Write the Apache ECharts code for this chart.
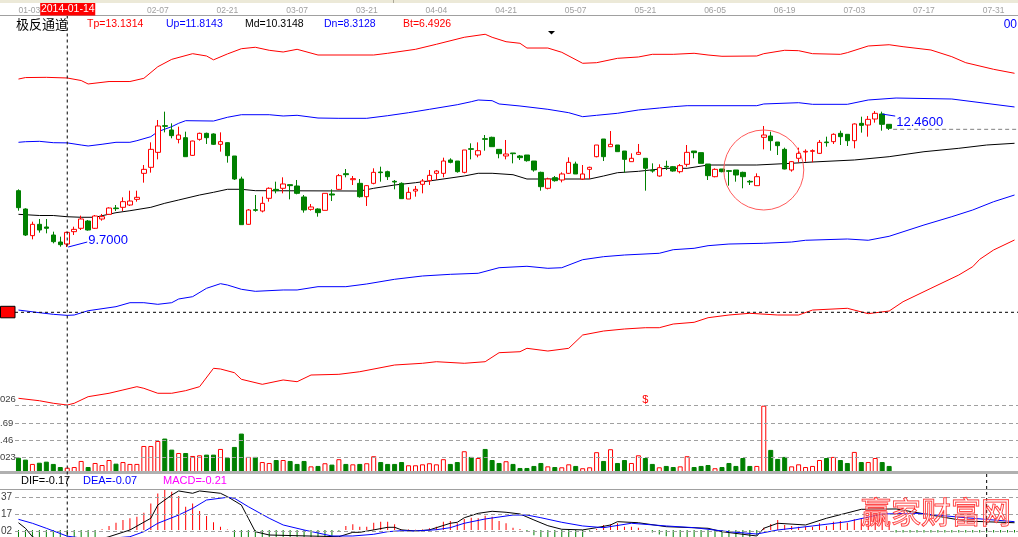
<!DOCTYPE html>
<html><head><meta charset="utf-8">
<script src="https://cdn.jsdelivr.net/npm/echarts@6/dist/echarts.min.js"></script>
<style>html,body{margin:0;padding:0;background:#fff}#c{width:1018px;height:537px}</style>
</head><body><div id="c"></div>
<script>
// ---------- DATA ----------
const dates = ['01-03','01-06','01-07','01-08','01-09','01-10','01-13','01-14','01-15','01-16','01-17','01-20','01-21','01-22','01-23','01-24','01-27','01-28','01-29','01-30',
'02-07','02-10','02-11','02-12','02-13','02-14','02-17','02-18','02-19','02-20','02-21','02-24','02-25','02-26','02-27','02-28',
'03-03','03-04','03-05','03-06','03-07','03-10','03-11','03-12','03-13','03-14','03-17','03-18','03-19','03-20','03-21','03-24','03-25','03-26','03-27','03-28','03-31',
'04-01','04-02','04-03','04-04','04-08','04-09','04-10','04-11','04-14','04-15','04-16','04-17','04-18','04-21','04-22','04-23','04-24','04-25','04-28','04-29','04-30',
'05-05','05-06','05-07','05-08','05-09','05-12','05-13','05-14','05-15','05-16','05-19','05-20','05-21','05-22','05-23','05-26','05-27','05-28','05-29','05-30',
'06-03','06-04','06-05','06-06','06-09','06-10','06-11','06-12','06-13','06-16','06-17','06-18','06-19','06-20','06-23','06-24','06-25','06-26','06-27','06-30',
'07-01','07-02','07-03','07-04','07-07','07-08','07-09','07-10','07-11','07-14','07-15','07-16','07-17','07-18','07-21','07-22','07-23','07-24','07-25','07-28','07-29','07-30','07-31',
'08-01','08-04','08-05'];
const dateTicks = ['01-03','02-07','02-21','03-07','03-21','04-04','04-21','05-07','05-21','06-05','06-19','07-03','07-17','07-31'];

// [open, close, low, high]
const candles = [
[10.844,10.499,10.438,10.871],[10.472,9.944,9.924,10.486],[9.931,10.161,9.856,10.215],[10.161,10.046,9.992,10.269],[10.107,10.080,9.978,10.269],
[9.944,9.809,9.775,10.012],[9.802,9.748,9.707,9.910],[9.761,9.998,9.700,10.012],[10.012,10.059,9.944,10.113],[10.080,10.269,10.046,10.337],
[10.228,10.046,10.032,10.249],[10.080,10.330,10.066,10.350],[10.269,10.316,10.235,10.371],[10.364,10.492,10.350,10.506],[10.492,10.479,10.431,10.553],
[10.506,10.621,10.431,10.709],[10.553,10.634,10.533,10.844],[10.668,10.709,10.621,10.844],[11.196,11.277,11.007,11.365],[11.318,11.683,11.210,11.825],
[11.622,12.157,11.480,12.279],[12.164,12.150,12.028,12.448],[12.076,11.961,11.907,12.211],[11.886,11.974,11.805,12.143],[11.920,11.534,11.534,12.042],
[11.561,11.852,11.548,11.859],[11.886,12.008,11.859,12.022],[12.008,11.920,11.792,12.022],[11.995,11.785,11.771,12.008],[11.785,11.839,11.636,12.028],
[11.819,11.555,11.413,11.825],[11.548,11.081,11.061,11.548],[11.081,10.154,10.154,11.128],[10.161,10.452,10.154,10.472],[10.458,10.445,10.418,10.756],
[10.431,10.587,10.404,10.722],[10.689,10.892,10.621,10.912],[10.871,10.844,10.790,11.027],[10.892,10.980,10.790,11.115],[10.966,10.946,10.668,10.973],
[10.939,10.790,10.770,11.061],[10.716,10.452,10.398,10.756],[10.465,10.513,10.438,10.574],[10.472,10.398,10.316,10.486],[10.445,10.790,10.445,10.790],
[10.777,10.756,10.634,10.871],[10.871,11.149,10.858,11.183],[11.189,11.169,11.115,11.284],[11.067,11.088,10.959,11.142],[10.993,10.722,10.702,11.081],
[10.722,10.946,10.533,10.959],[10.993,11.216,10.973,11.298],[11.223,11.210,11.027,11.331],[11.230,11.128,11.061,11.250],[11.034,11.020,10.871,11.061],
[10.993,10.682,10.682,11.013],[10.675,10.810,10.675,10.912],[10.837,10.871,10.722,10.939],[10.973,11.040,10.790,11.081],[11.047,11.155,10.959,11.264],
[11.196,11.243,11.061,11.264],[11.196,11.446,11.115,11.514],[11.467,11.419,11.399,11.501],[11.446,11.230,11.210,11.446],[11.216,11.670,11.196,11.670],
[11.697,11.683,11.480,11.805],[11.568,11.656,11.521,11.825],[11.900,11.886,11.656,11.974],[11.927,11.737,11.737,11.940],[11.683,11.595,11.501,11.683],
[11.548,11.588,11.480,11.873],[11.609,11.595,11.399,11.609],[11.548,11.514,11.467,11.568],[11.568,11.453,11.433,11.568],[11.446,11.264,11.230,11.446],
[11.216,10.925,10.844,11.230],[10.892,11.081,10.871,11.108],[11.108,11.047,11.027,11.142],[11.061,11.183,11.013,11.216],[11.196,11.419,11.183,11.521],
[11.385,11.183,11.183,11.433],[11.081,11.183,11.061,11.365],[11.277,11.318,11.081,11.331],[11.534,11.771,11.521,11.771],[11.893,11.534,11.446,11.893],
[11.737,11.785,11.737,12.055],[11.771,11.636,11.636,11.771],[11.649,11.480,11.210,11.649],[11.433,11.501,11.433,11.602],[11.582,11.622,11.568,11.792],
[11.501,11.298,10.844,11.501],[11.257,11.243,11.210,11.399],[11.142,11.311,11.128,11.379],[11.338,11.325,11.264,11.453],[11.331,11.243,11.230,11.345],
[11.230,11.352,11.196,11.385],[11.379,11.622,11.331,11.771],[11.649,11.616,11.501,11.649],[11.616,11.399,11.399,11.616],[11.385,11.149,11.061,11.385],
[11.128,11.277,11.115,11.298],[11.284,11.230,11.216,11.284],[11.250,11.237,10.946,11.264],[11.264,11.162,11.027,11.264],[11.216,11.128,10.892,11.230],
[11.034,11.020,10.959,11.061],[10.946,11.128,10.946,11.196],[11.927,11.974,11.683,12.157],[11.954,11.859,11.656,12.042],[11.832,11.758,11.568,11.832],
[11.683,11.284,11.277,11.717],[11.264,11.433,11.230,11.446],[11.501,11.602,11.419,11.717],[11.629,11.643,11.433,11.683],[11.643,11.656,11.419,11.683],
[11.602,11.825,11.588,11.873],[11.832,11.819,11.737,11.940],[11.839,11.988,11.792,12.008],[12.008,11.940,11.771,12.062],[11.988,11.859,11.751,11.988],
[11.859,12.198,11.704,12.211],[12.211,12.170,12.022,12.346],[12.177,12.292,11.940,12.360],[12.299,12.414,12.225,12.460],[12.401,12.191,12.062,12.448],
[12.191,12.110,12.076,12.191]];

const volumes = [1.17,1.03,0.71,0.80,0.88,0.71,0.48,0.43,0.48,0.93,
0.48,0.78,0.63,1.00,0.73,0.85,0.71,0.71,2.04,2.04,
2.41,2.59,1.77,1.52,1.52,1.30,1.35,1.40,1.40,1.82,
1.17,1.97,2.96,1.23,1.23,0.85,0.78,1.00,1.00,0.93,
0.71,0.93,0.53,0.56,0.76,0.66,1.06,0.71,0.68,0.71,
0.76,1.28,0.85,0.71,0.71,0.85,0.61,0.61,0.68,0.76,
0.68,1.06,0.71,0.85,1.65,1.23,1.15,1.82,1.00,0.78,
0.91,0.71,0.41,0.41,0.56,0.78,0.53,0.48,0.46,0.68,
0.56,0.39,0.46,1.58,0.93,1.80,0.78,1.00,0.78,1.35,
1.15,0.71,0.46,0.56,0.48,0.53,1.28,0.48,0.56,0.63,
0.39,0.48,0.78,0.56,1.15,0.56,0.56,5.026,1.75,1.08,
1.23,0.53,0.68,0.48,0.56,1.00,1.15,1.23,1.00,0.78,
1.60,0.85,0.85,1.15,0.85,0.56];

// channel lines: [category index, price]
const tpLine = [[0,13.11],[1,13.14],[4,13.145],[7,13.1314],[9,13.08],[10,13.01],[13,13.06],[16,13.06],[18,13.125],[20,13.36],[22,13.51],[25,13.625],[27,13.578],[28,13.50],[30,13.62],[32,13.726],[34,13.755],[36,13.694],[38,13.659],[40,13.714],[43,13.598],[51,13.598],[53,13.633],[57,13.714],[60,13.816],[64,13.958],[67,14.019],[68,13.958],[70,13.868],[72,13.836],[73,13.74],[76,13.74],[78,13.653],[81,13.43],[83,13.442],[86,13.531],[89,13.558],[91,13.612],[94,13.612],[97,13.633],[99,13.598],[101,13.572],[106,13.578],[107,13.625],[110,13.694],[112,13.686],[114,13.625],[118,13.612],[119,13.646],[122,13.781],[125,13.807],[127,13.767],[131,13.70],[134,13.564],[136,13.442],[140,13.308],[143,13.227]];
const upLine = [[0,11.826],[1,11.838],[3,11.846],[5,11.818],[7,11.8143],[9,11.771],[10,11.751],[12,11.786],[14,11.826],[16,11.826],[17,11.859],[19,11.94],[20,12.041],[22,12.143],[23,12.212],[24,12.265],[28,12.258],[30,12.334],[32,12.386],[36,12.386],[38,12.36],[40,12.374],[43,12.319],[46,12.313],[50,12.313],[53,12.366],[56,12.427],[59,12.496],[63,12.589],[65,12.65],[66,12.685],[68,12.671],[69,12.604],[72,12.563],[76,12.496],[79,12.427],[81,12.346],[83,12.374],[86,12.415],[89,12.482],[92,12.522],[94,12.549],[96,12.569],[106,12.569],[107,12.604],[112,12.63],[114,12.597],[119,12.597],[122,12.685],[126,12.725],[134,12.705],[143,12.543]];
const mdLine = [[0,10.364],[3,10.34],[5,10.34],[7,10.3148],[9,10.304],[11,10.304],[12,10.336],[14,10.397],[16,10.437],[19,10.506],[21,10.588],[23,10.655],[26,10.756],[28,10.811],[30,10.872],[32,10.872],[34,10.844],[49,10.837],[51,10.892],[54,10.959],[57,11.006],[60,11.061],[64,11.142],[66,11.197],[68,11.197],[71,11.168],[73,11.081],[82,11.081],[84,11.142],[86,11.209],[89,11.237],[93,11.298],[96,11.298],[99,11.365],[106,11.365],[111,11.40],[114,11.426],[120,11.467],[125,11.534],[130,11.635],[135,11.704],[139,11.771],[143,11.806]];
const dnLine = [[0,8.421],[3,8.367],[5,8.334],[7,8.3128],[8,8.32],[10,8.407],[14,8.489],[16,8.57],[18,8.57],[20,8.537],[22,8.57],[23,8.645],[25,8.692],[27,8.862],[29,8.956],[30,8.929],[32,8.842],[34,8.801],[38,8.828],[40,8.828],[43,8.895],[47,8.895],[50,8.95],[54,9.045],[58,9.112],[62,9.146],[66,9.167],[69,9.28],[73,9.309],[76,9.268],[78,9.28],[81,9.443],[84,9.504],[87,9.538],[92,9.573],[94,9.646],[97,9.674],[99,9.727],[102,9.761],[107,9.776],[111,9.802],[113,9.837],[119,9.863],[122,9.837],[125,9.918],[130,10.147],[134,10.316],[137,10.452],[140,10.62],[143,10.756]];
const btLine = [[0,6.629],[3,6.58],[5,6.528],[7,6.4926],[8,6.528],[10,6.662],[13,6.731],[15,6.798],[17,6.865],[18,6.832],[20,6.731],[22,6.731],[24,6.784],[26,6.865],[28,7.238],[29,7.224],[31,7.149],[32,7.015],[35,6.913],[38,7.001],[40,6.966],[42,7.102],[46,7.116],[49,7.169],[54,7.305],[58,7.34],[60,7.372],[64,7.34],[67,7.372],[69,7.555],[72,7.575],[73,7.644],[76,7.589],[79,7.644],[81,7.914],[84,7.995],[87,8.036],[90,8.062],[92,8.062],[94,8.137],[97,8.172],[99,8.265],[102,8.32],[105,8.355],[109,8.32],[112,8.32],[114,8.421],[119,8.456],[122,8.347],[125,8.401],[127,8.59],[131,8.862],[135,9.132],[137,9.301],[138,9.45],[140,9.64],[143,9.843]];

const macdBars = [-0.08,-0.14,-0.2,-0.22,-0.22,-0.21,-0.21,-0.21,-0.19,-0.16,-0.13,-0.1,
0.007,0.044,0.08,0.111,0.129,0.147,0.192,0.296,0.408,0.446,0.427,0.379,0.259,0.296,0.211,0.155,0.085,0.036,0.004,
-0.1,-0.2,-0.26,-0.33,-0.37,-0.37,-0.33,-0.28,-0.22,-0.15,-0.12,-0.1,-0.09,-0.09,-0.08,-0.01,
0.044,0.062,0.036,0.036,0.08,0.092,0.092,0.062,0.005,0.004,0.003,0.004,0.018,0.036,0.092,0.099,0.074,0.122,0.136,0.13,0.159,0.147,0.099,0.074,0.025,0.01,
-0.02,-0.06,-0.09,-0.1,-0.1,-0.1,-0.1,-0.09,-0.08,-0.01,0.01,
0.055,0.062,0.074,0.036,0.036,0.025,0.005,
-0.03,-0.05,-0.07,-0.08,-0.09,-0.1,-0.1,-0.1,-0.1,-0.1,-0.1,-0.1,-0.09,-0.09,-0.08,-0.06,
0.025,0.066,0.111,0.055,0.044,0.036,0.036,0.036,0.074,0.044,0.092,0.099,0.08,0.118,0.13,0.13,0.147,0.13,0.092,
-0.03,-0.03,-0.03,-0.03,-0.03,-0.03,-0.03,-0.03,-0.03,-0.03,-0.03,-0.03,-0.03,-0.03,-0.03,-0.03,-0.03,-0.03];
const difLine = [[0,0.08],[1,0.018],[2,-0.076],[3,-0.11],[5,-0.15],[7,-0.17],[9,-0.16],[11,-0.12],[13,-0.076],[16,-0.001],[19,0.13],[20,0.278],[22,0.39],[23,0.435],[25,0.409],[26,0.435],[29,0.409],[30,0.371],[32,0.278],[33,0.13],[34,-0.02],[36,-0.057],[40,-0.065],[46,-0.076],[48,-0.027],[49,-0.027],[51,0],[53,0.029],[54,0.029],[55,0],[57,-0.012],[59,0],[60,0.025],[62,0.074],[63,0.085],[64,0.136],[66,0.185],[68,0.208],[70,0.197],[72,0.178],[74,0.111],[76,0.047],[78,0.007],[81,0],[83,0.025],[85,0.055],[86,0.092],[89,0.08],[93,0.036],[99,0.018],[101,-0.02],[106,-0.068],[107,0.018],[109,0.074],[113,0.055],[116,0.13],[121,0.23],[126,0.234],[131,0.166],[136,0.099],[143,0.08]];
const deaLine = [[0,0.118],[2,0.074],[4,0.018],[7,-0.07],[9,-0.09],[11,-0.1],[13,-0.095],[16,-0.076],[18,-0.02],[20,0.074],[23,0.166],[25,0.241],[27,0.334],[30,0.364],[31,0.353],[33,0.259],[36,0.13],[38,0.055],[41,-0.001],[45,-0.068],[48,-0.068],[51,-0.049],[53,-0.02],[55,-0.009],[57,-0.012],[60,0.002],[62,0.025],[64,0.074],[67,0.122],[71,0.166],[73,0.166],[75,0.136],[78,0.085],[81,0.044],[84,0.025],[88,0.074],[93,0.044],[97,0.025],[102,-0.02],[106,-0.046],[109,-0.001],[114,0.044],[119,0.092],[124,0.178],[129,0.185],[136,0.136],[143,0.092]];

const volTicks = [1.23, 2.46, 3.69, 5.026];
const volTickLabels = ['023', '.46', '.69', '026'];
const macdTicks = [0.37, 0.17, -0.02];
const macdTickLabels = ['37', '17', '02'];
const headerItems = [
  {text:'Tp=13.1314', color:'#ff0000', x:87},
  {text:'Up=11.8143', color:'#0000ff', x:166},
  {text:'Md=10.3148', color:'#000000', x:245},
  {text:'Dn=8.3128', color:'#0000ff', x:324},
  {text:'Bt=6.4926', color:'#ff0000', x:403}
];
const macdHeader = [
  {text:'DIF=-0.17', color:'#000000', x:21},
  {text:'DEA=-0.07', color:'#0000ff', x:83},
  {text:'MACD=-0.21', color:'#ff00ff', x:163}
];
const cursorIndex = 7;        // 2014-01-14
const cursorPrice = 8.375;    // horizontal cursor line
const lowIndex = 7, highIndex = 123;
const circleCenter = [107, 11.264];
const secondCursorIndex = 139;

// ---------- CHART ----------
const RED = '#ff0000', GREEN = '#008000', BLUE = '#0000ff';
const chart = echarts.init(document.getElementById('c'));
const lineS = (data, color) => ({type:'line', xAxisIndex:0, yAxisIndex:0, data, showSymbol:false, symbol:'none',
  lineStyle:{color, width:1}, itemStyle:{color}, z:2, silent:true});
const upStyle = {color:'#ffffff', borderColor:RED, borderWidth:1};
const dnStyle = {color:GREEN, borderColor:GREEN, borderWidth:1};
const gridDash = {color:'#a0a0a0', type:[4,3], width:1};

chart.setOption({
  animation:false,
  backgroundColor:'#ffffff',
  textStyle:{fontFamily:'"Liberation Sans", Arial, sans-serif'},
  grid:[
    {left:15, top:28, width:1008, height:378},
    {left:15, top:405, width:1008, height:68.5},
    {left:15, top:489.3, width:1008, height:47.7}
  ],
  xAxis:[
    {type:'category', gridIndex:0, data:dates, position:'top', boundaryGap:true,
     axisLine:{show:false}, axisTick:{show:false}, splitLine:{show:false},
     axisLabel:{interval:(i, v) => dateTicks.includes(v), color:'#a0a0a0', fontSize:8.5, margin:13, alignMinLabel:'left'}},
    {type:'category', gridIndex:1, data:dates, show:false, boundaryGap:true},
    {type:'category', gridIndex:2, data:dates, show:false, boundaryGap:true}
  ],
  yAxis:[
    {type:'value', gridIndex:0, min:6.4728, max:14.1464, show:false},
    {type:'value', gridIndex:1, min:0, max:5.078, show:false},
    {type:'value', gridIndex:2, min:-0.0793, max:0.4536, show:false}
  ],
  series:[
    lineS(tpLine, RED), lineS(upLine, BLUE), lineS(mdLine, '#000000'), lineS(dnLine, BLUE), lineS(btLine, RED),
    {type:'candlestick', xAxisIndex:0, yAxisIndex:0, data:candles, barWidth:5, z:3, silent:true,
     itemStyle:{color:'#ffffff', color0:GREEN, borderColor:RED, borderColor0:GREEN, borderWidth:1}},
    {type:'bar', xAxisIndex:1, yAxisIndex:1, barWidth:5, silent:true,
     data: volumes.map((v, i) => ({value:v, itemStyle: candles[i][1] >= candles[i][0] ? upStyle : dnStyle})),
     markLine:{silent:true, symbol:['none','none'], label:{show:false}, lineStyle:gridDash,
       data: volTicks.map(v => ({yAxis:v}))}},
    {type:'bar', xAxisIndex:2, yAxisIndex:2, barWidth:1, silent:true,
     data: macdBars.map(v => ({value:v, itemStyle:{color: v >= 0 ? RED : GREEN}})),
     markLine:{silent:true, symbol:['none','none'], label:{show:false}, lineStyle:gridDash,
       data: macdTicks.map(v => ({yAxis:v}))}},
    {type:'line', xAxisIndex:2, yAxisIndex:2, data:difLine, showSymbol:false, symbol:'none', lineStyle:{color:'#000000', width:1}, silent:true, z:3},
    {type:'line', xAxisIndex:2, yAxisIndex:2, data:deaLine, showSymbol:false, symbol:'none', lineStyle:{color:BLUE, width:1}, silent:true, z:3}
  ]
});

// ---------- ANNOTATIONS (positions from the chart's own scales) ----------
const P0 = (x, y) => chart.convertToPixel({xAxisIndex:0, yAxisIndex:0}, [x, y]);
const P1 = (x, y) => chart.convertToPixel({xAxisIndex:1, yAxisIndex:1}, [x, y]);
const P2 = (x, y) => chart.convertToPixel({xAxisIndex:2, yAxisIndex:2}, [x, y]);
const FONT = '"Liberation Sans", Arial, sans-serif';
const txt = (text, x, y, fill, size, align, extra) => Object.assign({type:'text', x, y, z:100, silent:true,
  style:{text, fill, font: size + 'px ' + FONT, align: align || 'left', textAlign: align || 'left', verticalAlign:'middle', textVerticalAlign:'middle'}}, extra || {});
const ln = (x1, y1, x2, y2, stroke, dash, z) => ({type:'line', z: z || 100, silent:true,
  shape:{x1, y1, x2, y2}, style:{stroke, lineWidth:1, lineDash: dash || null}});

const W = 1018;
const cx = P0(cursorIndex, 10)[0];
const cyH = P0(cursorIndex, cursorPrice)[1];
const lowPt = P0(lowIndex, candles[lowIndex][2]);
const highPt = P0(highIndex, candles[highIndex][3]);
const lastIdx = candles.length - 1;
const lastPt = P0(lastIdx, candles[lastIdx][1]);
const circ = P0(circleCenter[0], circleCenter[1]);
const x2nd = P2(secondCursorIndex, 0)[0];
const els = [];

// top strip + separators
els.push({type:'rect', z:90, silent:true, shape:{x:0, y:0, width:W, height:3}, style:{fill:'#ece9d8'}});
els.push(ln(393.5, 0, 393.5, 3, '#aca899'));
els.push(ln(0, 15.5, W, 15.5, '#a0a0a0'));
// cursor date box
els.push({type:'rect', z:101, silent:true, shape:{x:cx - 27, y:3, width:55, height:12.5}, style:{fill:RED}});
els.push(txt('2014-01-14', cx + 0.5, 9.5, '#ffffff', 10.5, 'center', {z:102}));
// header
els.push({type:'text', x:16, y:24, z:100, silent:true, style:{text:'极反通道', fill:'#000', font:'13px "Noto Sans CJK SC", sans-serif', verticalAlign:'middle', textVerticalAlign:'middle'}});
headerItems.forEach(h => els.push(txt(h.text, h.x, 24, h.color, 10.5)));
els.push(txt('00', W - 1, 25, BLUE, 12, 'right'));
els.push({type:'polygon', z:100, silent:true, shape:{points:[[548, 31], [555, 31], [551.5, 34.5]]}, style:{fill:'#000'}});
// cursor lines
els.push(ln(cx, 15.5, cx, 537, '#000', [3, 3], 99));
els.push(ln(15, cyH, W, cyH, '#000', [3, 3], 99));
els.push({type:'rect', z:101, silent:true, shape:{x:0.5, y:cyH - 6, width:14.5, height:11.5}, style:{fill:RED, stroke:'#000', lineWidth:1}});
// low / high markers
els.push(ln(lowPt[0] + 1, lowPt[1], lowPt[0] + 20, lowPt[1] - 5, BLUE));
els.push(txt('9.7000', lowPt[0] + 21, lowPt[1] - 6.5, BLUE, 13));
els.push(ln(highPt[0] + 7, highPt[1] + 3, highPt[0] + 20, highPt[1] + 5, BLUE));
els.push(txt('12.4600', highPt[0] + 21, highPt[1] + 11.6, BLUE, 13));
els.push(ln(lastPt[0] + 4, lastPt[1] + 1, W, lastPt[1] + 1, '#808080', [4, 3]));
// circle annotation
els.push({type:'circle', z:100, silent:true, shape:{cx:circ[0], cy:circ[1], r:40}, style:{fill:'none', stroke:'#ff5a5a', lineWidth:1}});
// volume panel labels and separator
volTicks.forEach((v, i) => {
  const y = P1(0, v)[1];
  els.push(txt(volTickLabels[i], 0, i === volTicks.length - 1 ? y - 6.5 : y, '#404040', 9.5));
});
els.push(txt('$', P0(90, 10)[0], 400, RED, 11, 'center'));
els.push({type:'rect', z:95, silent:true, shape:{x:0, y:471, width:W, height:3}, style:{fill:'#b0b0b0'}});
// MACD panel
macdHeader.forEach(h => els.push(txt(h.text, h.x, 481, h.color, 11)));
els.push(ln(0, 489.5, W, 489.5, '#a0a0a0'));
macdTicks.forEach((v, i) => els.push(txt(macdTickLabels[i], 1, P2(0, v)[1], '#404040', 10)));
els.push(ln(x2nd, 474, x2nd, 537, '#000', [3, 3]));
// watermark (thin outlined red calligraphy-like text)
els.push({type:'text', x:861, y:512, z:110, silent:true, style:{text:'赢家财富网', fill:'rgba(255,255,255,0.35)', stroke:'#ff2020', lineWidth:1, font:'30px "Noto Sans CJK SC", sans-serif', verticalAlign:'middle', textVerticalAlign:'middle'}});

chart.setOption({graphic:{elements:els}});
</script>
</body></html>
